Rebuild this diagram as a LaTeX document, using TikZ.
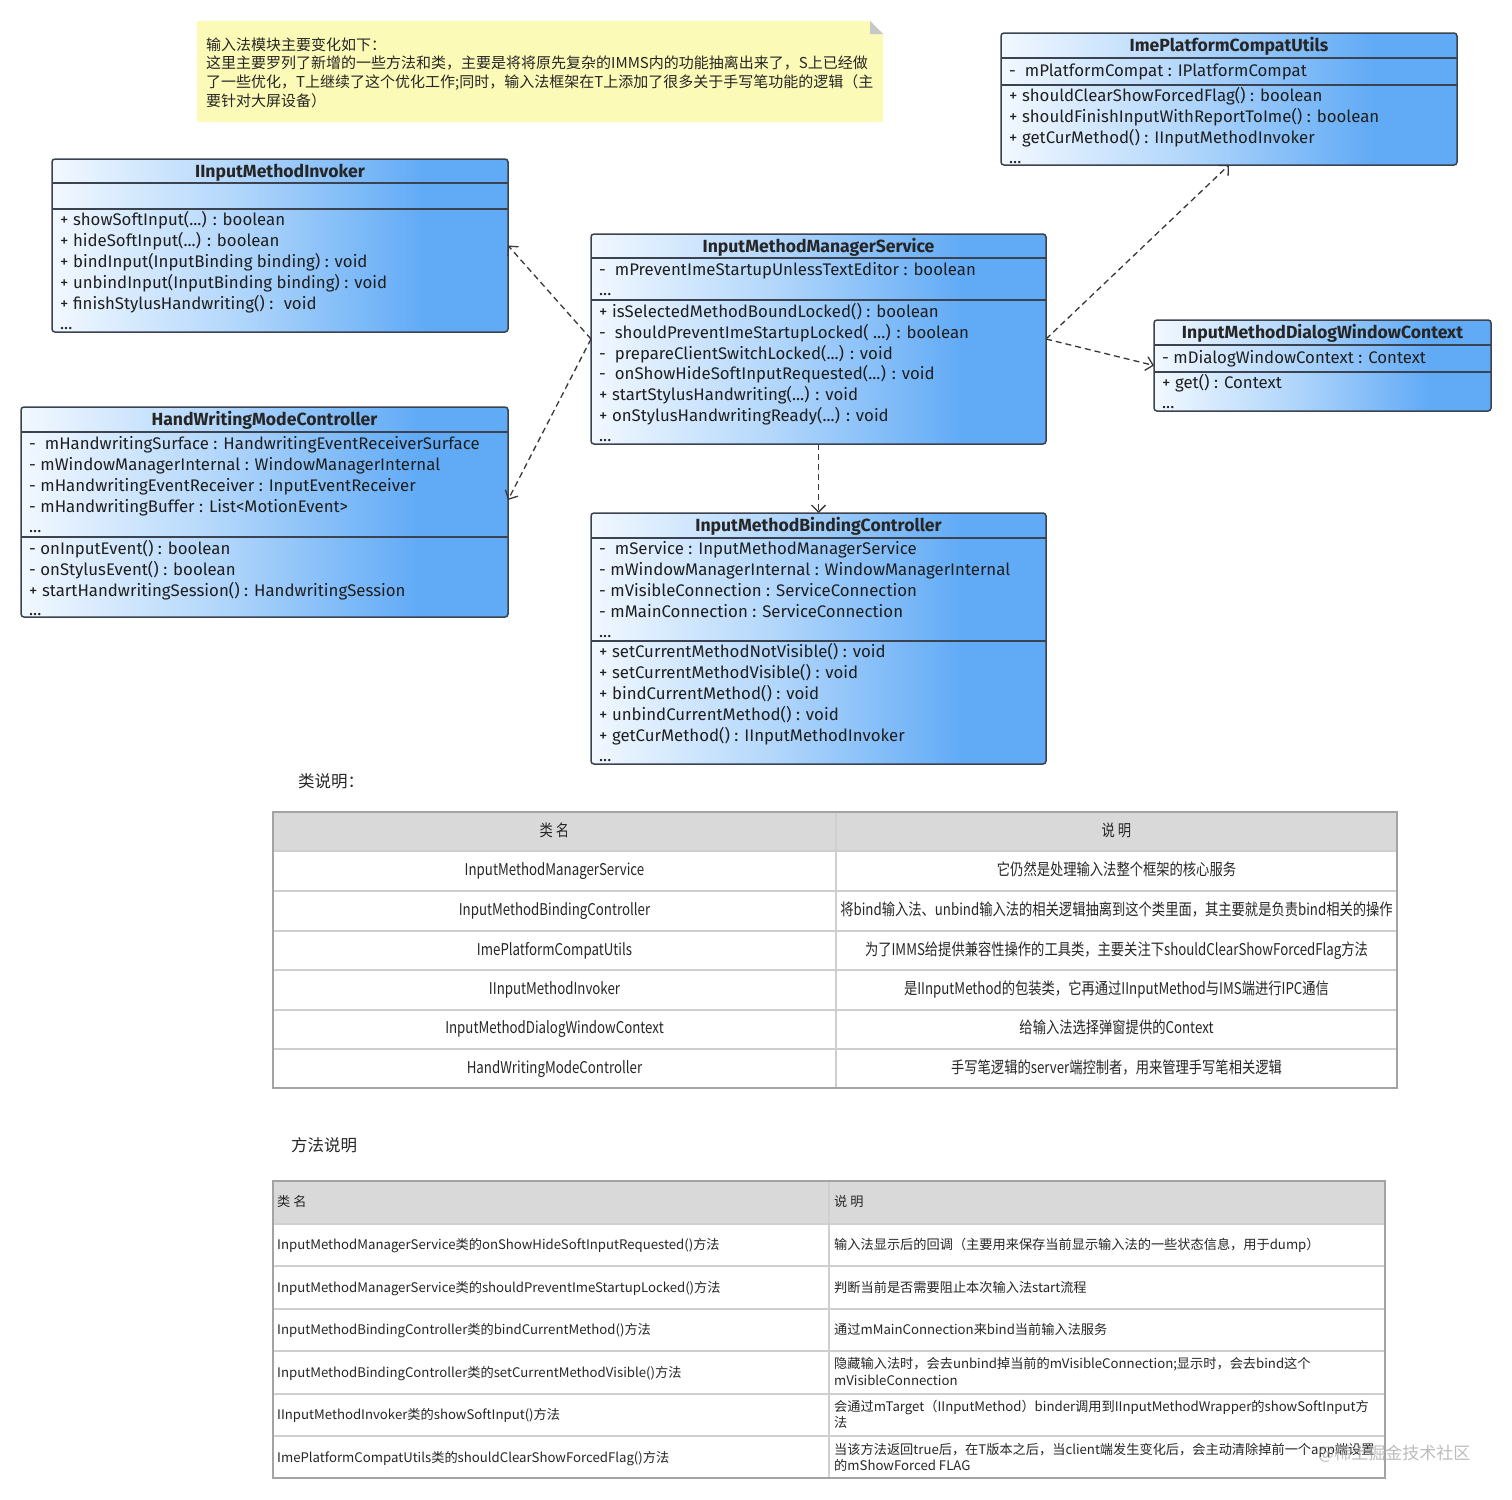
\documentclass[tikz,border=0pt]{standalone}
\usepackage{fontspec}
\setmainfont{Fira Sans}
\newfontfamily\cjk{Noto Sans CJK SC}
\newfontfamily\cjkc[FakeStretch=0.82]{Noto Sans CJK SC}
\usetikzlibrary{arrows.meta}
\definecolor{boxline}{HTML}{3B4350}
\definecolor{umlmid}{HTML}{B3D7FB}
\definecolor{umlblue}{HTML}{60AAF6}
\definecolor{umllight}{HTML}{F2F8FF}
\definecolor{notefill}{HTML}{FBFAB6}
\definecolor{hdrfill}{HTML}{D9D9D9}
\definecolor{tabout}{HTML}{A3A3A3}
\definecolor{tabin}{HTML}{CFCFCF}
\definecolor{arrowc}{HTML}{383838}
\pgfdeclarehorizontalshading{umlshade}{100bp}{color(0bp)=(umllight); color(25bp)=(umllight); color(45bp)=(umlmid); color(66bp)=(umlblue); color(100bp)=(umlblue)}
\newcounter{tc}
\newcommand\umlt[3]{\stepcounter{tc}\node[umltext] (t\arabic{tc}) at (#1,#2) {#3};}
\newcommand\umlh[3]{\stepcounter{tc}\node[umltitle] (t\arabic{tc}) at (#1,#2) {#3};}
\newcommand\tabc[3]{\stepcounter{tc}\node[tabctext] (t\arabic{tc}) at (#1,#2) {#3};}
\newcommand\tabl[3]{\stepcounter{tc}\node[tabltext] (t\arabic{tc}) at (#1,#2) {#3};}
\begin{document}
\begin{tikzpicture}[x=1pt,y=-1pt,
  umlbox/.style={anchor=north west, draw=boxline, line width=1.5pt, rounded corners=3pt, shading=umlshade, inner sep=0pt, outer sep=0pt},
  divline/.style={draw=boxline, line width=1.5pt},
  umltext/.style={anchor=base west, inner sep=0pt, text=black!88, font=\fontsize{16.8}{18}\selectfont},
  umltitle/.style={anchor=base, inner sep=0pt, text=black!85, font=\fontsize{17.6}{18}\selectfont\bfseries},
  dep/.style={draw=arrowc, line width=1.3pt, dash pattern=on 6pt off 4pt, -{Straight Barb[length=7pt,width=14pt,line width=1.3pt]}},
  tabctext/.style={anchor=base, inner sep=0pt, text=black!85, font=\cjkc\fontsize{16.2}{18}\selectfont},
  tabltext/.style={anchor=base west, inner sep=0pt, text=black!85, font=\cjk\fontsize{13.2}{16}\selectfont},
  notetext/.style={anchor=base west, inner sep=0pt, text=black!85, font=\cjk\fontsize{15}{18}\selectfont},
  sectitle/.style={anchor=base west, inner sep=0pt, text=black!85, font=\cjk\fontsize{16.5}{18}\selectfont},
  tabouter/.style={draw=tabout, line width=2pt},
  tabinner/.style={draw=tabin, line width=1.5pt}
]
\useasboundingbox (0,0) rectangle (1512,1499);
\fill[white] (0,0) rectangle (1512,1499);

% ---------- note ----------
\fill[notefill] (197,21) -- (870,21) -- (883,34) -- (883,122) -- (197,122) -- cycle;
\fill[black!22] (870,21) -- (883,34) -- (870,34) -- cycle;
\stepcounter{tc}\node[notetext] (n1) at (206,50) {输入法模块主要变化如下：};
\stepcounter{tc}\node[notetext] (n2) at (206,68) {这里主要罗列了新增的一些方法和类，主要是将将原先复杂的IMMS内的功能抽离出来了，S上已经做};
\stepcounter{tc}\node[notetext] (n3) at (206,87) {了一些优化，T上继续了这个优化工作;同时，输入法框架在T上添加了很多关于手写笔功能的逻辑（主};
\stepcounter{tc}\node[notetext] (n4) at (206,106) {要针对大屏设备）};

% ---------- IInputMethodInvoker ----------
\node[umlbox, minimum width=456pt, minimum height=173pt] (inv) at (52,159) {};
\draw[divline] (52,183) -- (508,183);
\draw[divline] (52,209) -- (508,209);
\umlh{280}{177}{IInputMethodInvoker}
\umlt{60}{225}{+ showSoftInput(...) : boolean}
\umlt{60}{246}{+ hideSoftInput(...) : boolean}
\umlt{60}{267}{+ bindInput(InputBinding binding) : void}
\umlt{60}{288}{+ unbindInput(InputBinding binding) : void}
\umlt{60}{309}{+ finishStylusHandwriting() :~ void}
\umlt{60}{329}{...}

% ---------- InputMethodManagerService ----------
\node[umlbox, minimum width=455pt, minimum height=210pt] (imms) at (591,234) {};
\draw[divline] (591,258) -- (1046,258);
\draw[divline] (591,300) -- (1046,300);
\umlh{818.5}{252}{InputMethodManagerService}
\umlt{599}{275}{-~ mPreventImeStartupUnlessTextEditor : boolean}
\umlt{599}{295}{...}
\umlt{599}{317}{+ isSelectedMethodBoundLocked() : boolean}
\umlt{599}{338}{-~ shouldPreventImeStartupLocked( ...) : boolean}
\umlt{599}{359}{-~ prepareClientSwitchLocked(...) : void}
\umlt{599}{379}{-~ onShowHideSoftInputRequested(...) : void}
\umlt{599}{400}{+ startStylusHandwriting(...) : void}
\umlt{599}{421}{+ onStylusHandwritingReady(...) : void}
\umlt{599}{441}{...}

% ---------- ImePlatformCompatUtils ----------
\node[umlbox, minimum width=456pt, minimum height=132pt] (ipc) at (1001,33) {};
\draw[divline] (1001,58) -- (1457,58);
\draw[divline] (1001,85) -- (1457,85);
\umlh{1229}{51}{ImePlatformCompatUtils}
\umlt{1009}{76}{-~ mPlatformCompat : IPlatformCompat}
\umlt{1009}{101}{+ shouldClearShowForcedFlag() : boolean}
\umlt{1009}{122}{+ shouldFinishInputWithReportToIme() : boolean}
\umlt{1009}{143}{+ getCurMethod() : IInputMethodInvoker}
\umlt{1009}{163}{...}

% ---------- InputMethodDialogWindowContext ----------
\node[umlbox, minimum width=337pt, minimum height=91pt] (idw) at (1154,320) {};
\draw[divline] (1154,345) -- (1491,345);
\draw[divline] (1154,372) -- (1491,372);
\umlh{1322.5}{338}{InputMethodDialogWindowContext}
\umlt{1162}{363}{- mDialogWindowContext : Context}
\umlt{1162}{388}{+ get() : Context}
\umlt{1162}{408}{...}

% ---------- HandWritingModeController ----------
\node[umlbox, minimum width=487pt, minimum height=210pt] (hw) at (21,407) {};
\draw[divline] (21,432) -- (508,432);
\draw[divline] (21,537) -- (508,537);
\umlh{264.5}{425}{HandWritingModeController}
\umlt{29}{449}{-~ mHandwritingSurface : HandwritingEventReceiverSurface}
\umlt{29}{470}{- mWindowManagerInternal : WindowManagerInternal}
\umlt{29}{491}{- mHandwritingEventReceiver : InputEventReceiver}
\umlt{29}{512}{- mHandwritingBuffer : List<MotionEvent>}
\umlt{29}{532}{...}
\umlt{29}{554}{- onInputEvent() : boolean}
\umlt{29}{575}{- onStylusEvent() : boolean}
\umlt{29}{596}{+ startHandwritingSession() : HandwritingSession}
\umlt{29}{615}{...}

% ---------- InputMethodBindingController ----------
\node[umlbox, minimum width=455pt, minimum height=251pt] (imbc) at (591,513) {};
\draw[divline] (591,538) -- (1046,538);
\draw[divline] (591,641) -- (1046,641);
\umlh{818.5}{531}{InputMethodBindingController}
\umlt{599}{554}{-~ mService : InputMethodManagerService}
\umlt{599}{575}{- mWindowManagerInternal : WindowManagerInternal}
\umlt{599}{596}{- mVisibleConnection : ServiceConnection}
\umlt{599}{617}{- mMainConnection : ServiceConnection}
\umlt{599}{637}{...}
\umlt{599}{657}{+ setCurrentMethodNotVisible() : void}
\umlt{599}{678}{+ setCurrentMethodVisible() : void}
\umlt{599}{699}{+ bindCurrentMethod() : void}
\umlt{599}{720}{+ unbindCurrentMethod() : void}
\umlt{599}{741}{+ getCurMethod() : IInputMethodInvoker}
\umlt{599}{761}{...}

% ---------- dependencies ----------
\draw[dep] (imms.west) -- (inv.east);
\draw[dep] (imms.west) -- ([yshift=12pt]hw.east);
\draw[dep] (imms.east) -- (ipc.south);
\draw[dep] (imms.east) -- (idw.west);
\draw[dep] (imms.south) -- (imbc.north);

% ---------- table 1 ----------
\stepcounter{tc}\node[sectitle] (s1) at (298,787) {类说明：};
\fill[hdrfill] (273,812) rectangle (1397,851);
\foreach \yy in {851,891,931,970,1010,1049} \draw[tabinner] (273,\yy) -- (1397,\yy);
\draw[tabinner] (836,812) -- (836,1088);
\draw[tabouter] (273,812) rectangle (1397,1088);
\tabc{554.5}{836}{类 名}
\tabc{1116.5}{836}{说 明}
\tabc{554.5}{875}{InputMethodManagerService}
\tabc{1116.5}{875}{它仍然是处理输入法整个框架的核心服务}
\tabc{554.5}{915}{InputMethodBindingController}
\tabc{1116.5}{915}{将bind输入法、unbind输入法的相关逻辑抽离到这个类里面，其主要就是负责bind相关的操作}
\tabc{554.5}{955}{ImePlatformCompatUtils}
\tabc{1116.5}{955}{为了IMMS给提供兼容性操作的工具类，主要关注下shouldClearShowForcedFlag方法}
\tabc{554.5}{994}{IInputMethodInvoker}
\tabc{1116.5}{994}{是IInputMethod的包装类，它再通过IInputMethod与IMS端进行IPC通信}
\tabc{554.5}{1033}{InputMethodDialogWindowContext}
\tabc{1116.5}{1033}{给输入法选择弹窗提供的Context}
\tabc{554.5}{1073}{HandWritingModeController}
\tabc{1116.5}{1073}{手写笔逻辑的server端控制者，用来管理手写笔相关逻辑}

% ---------- table 2 ----------
\stepcounter{tc}\node[sectitle] (s2) at (291,1151) {方法说明};
\fill[hdrfill] (273,1181) rectangle (1385,1224);
\foreach \yy in {1224,1266,1309,1351,1394,1436} \draw[tabinner] (273,\yy) -- (1385,\yy);
\draw[tabinner] (829,1181) -- (829,1478);
\draw[tabouter] (273,1181) rectangle (1385,1478);
\tabl{277}{1206}{类 名}
\tabl{834}{1206}{说 明}
\tabl{277}{1249}{InputMethodManagerService类的onShowHideSoftInputRequested()方法}
\tabl{834}{1249}{输入法显示后的回调（主要用来保存当前显示输入法的一些状态信息，用于dump）}
\tabl{277}{1292}{InputMethodManagerService类的shouldPreventImeStartupLocked()方法}
\tabl{834}{1292}{判断当前是否需要阻止本次输入法start流程}
\tabl{277}{1334}{InputMethodBindingController类的bindCurrentMethod()方法}
\tabl{834}{1334}{通过mMainConnection来bind当前输入法服务}
\tabl{277}{1377}{InputMethodBindingController类的setCurrentMethodVisible()方法}
\tabl{834}{1368}{隐藏输入法时，会去unbind掉当前的mVisibleConnection;显示时，会去bind这个}
\tabl{834}{1385}{mVisibleConnection}
\tabl{277}{1419}{IInputMethodInvoker类的showSoftInput()方法}
\tabl{834}{1411}{会通过mTarget（IInputMethod）binder调用到IInputMethodWrapper的showSoftInput方}
\tabl{834}{1427}{法}
\tabl{277}{1462}{ImePlatformCompatUtils类的shouldClearShowForcedFlag()方法}
\tabl{834}{1454}{当该方法返回true后，在T版本之后，当client端发生变化后，会主动清除掉前一个app端设置}
\tabl{834}{1470}{的mShowForced FLAG}

% ---------- watermark ----------
\stepcounter{tc}\node[anchor=base west, inner sep=0pt, text=black!35, opacity=0.75, font=\cjk\fontsize{17}{18}\selectfont] (wm) at (1318,1459) {@稀土掘金技术社区};
\end{tikzpicture}
\end{document}
